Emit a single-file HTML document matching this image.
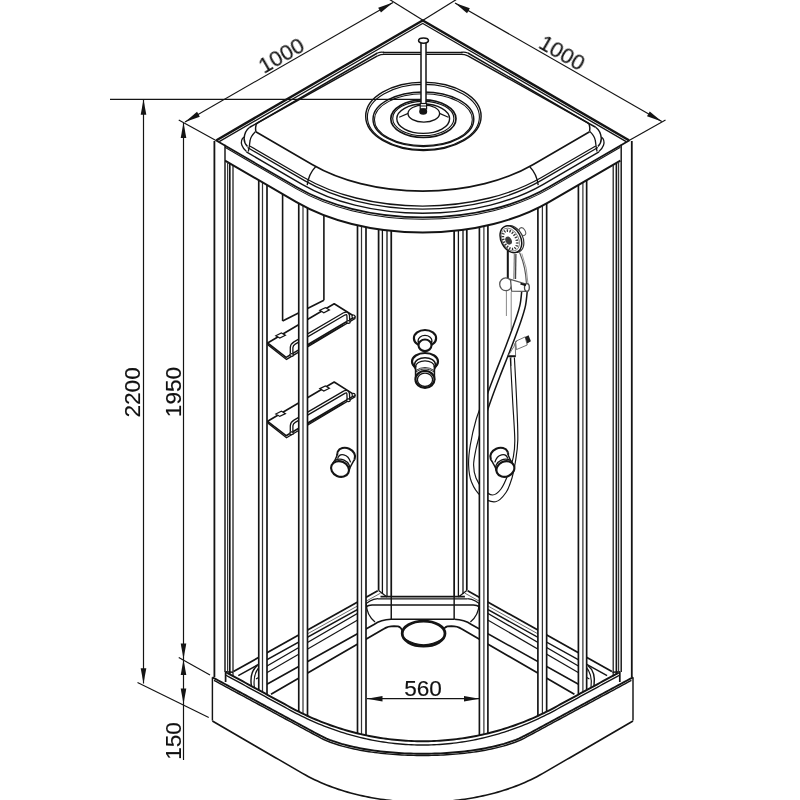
<!DOCTYPE html>
<html><head><meta charset="utf-8"><title>Shower cabin drawing</title>
<style>html,body{margin:0;padding:0;background:#fff}svg{display:block}
text{font-family:"Liberation Sans",Arial,sans-serif;fill:#111;stroke:#111;stroke-width:0.15px}</style></head>
<body><svg width="800" height="800" viewBox="0 0 800 800">
<rect width="800" height="800" fill="#fff"/>
<line x1="233.50" y1="671.50" x2="377.75" y2="590.75" stroke="#141414" stroke-width="1.74"/>
<line x1="300.00" y1="638.00" x2="380.50" y2="593.20" stroke="#555" stroke-width="0.87"/>
<line x1="256.00" y1="679.00" x2="366.30" y2="615.00" stroke="#141414" stroke-width="1.16"/>
<path d="M238.30,675.6 L364.00,606 Q369.00,599.5 378.00,598.6" stroke="#141414" stroke-width="1.45" fill="none" />
<path d="M258.00,671.2 L362.00,610.8 Q365.00,605.6 372.00,605 L391.25,605" stroke="#141414" stroke-width="1.30" fill="none" />
<path d="M366.30,603.8 Q366.50,615 375.00,622" stroke="#141414" stroke-width="1.30" fill="none" />
<path d="M262.00,687 L374.00,624.5 Q381.00,619.6 391.00,619.3" stroke="#141414" stroke-width="1.59" fill="none" />
<path d="M271.00,694.3 L384.00,628.8 Q388.00,626.2 394.00,626.2 L398.00,626.4 Q401.00,627 402.50,631" stroke="#141414" stroke-width="1.74" fill="none" />
<path d="M257.50,665.5 Q249.30,672 251.40,686" stroke="#141414" stroke-width="1.45" fill="none" />
<path d="M259.80,666.5 Q252.60,674 254.40,687.5" stroke="#141414" stroke-width="1.16" fill="none" />
<line x1="391.25" y1="596.00" x2="391.25" y2="619.30" stroke="#141414" stroke-width="1.45"/>
<line x1="611.90" y1="671.50" x2="467.65" y2="590.75" stroke="#141414" stroke-width="1.74"/>
<line x1="545.40" y1="638.00" x2="464.90" y2="593.20" stroke="#555" stroke-width="0.87"/>
<line x1="589.40" y1="679.00" x2="479.10" y2="615.00" stroke="#141414" stroke-width="1.16"/>
<path d="M607.10,675.6 L481.40,606 Q476.40,599.5 467.40,598.6" stroke="#141414" stroke-width="1.45" fill="none" />
<path d="M587.40,671.2 L483.40,610.8 Q480.40,605.6 473.40,605 L454.15,605" stroke="#141414" stroke-width="1.30" fill="none" />
<path d="M479.10,603.8 Q478.90,615 470.40,622" stroke="#141414" stroke-width="1.30" fill="none" />
<path d="M583.40,687 L471.40,624.5 Q464.40,619.6 454.40,619.3" stroke="#141414" stroke-width="1.59" fill="none" />
<path d="M574.40,694.3 L461.40,628.8 Q457.40,626.2 451.40,626.2 L447.40,626.4 Q444.40,627 442.90,631" stroke="#141414" stroke-width="1.74" fill="none" />
<path d="M587.90,665.5 Q596.10,672 594.00,686" stroke="#141414" stroke-width="1.45" fill="none" />
<path d="M585.60,666.5 Q592.80,674 591.00,687.5" stroke="#141414" stroke-width="1.16" fill="none" />
<line x1="454.15" y1="596.00" x2="454.15" y2="619.30" stroke="#141414" stroke-width="1.45"/>
<line x1="380.50" y1="596.60" x2="464.90" y2="596.60" stroke="#141414" stroke-width="1.74"/>
<line x1="378.00" y1="598.80" x2="467.40" y2="598.80" stroke="#141414" stroke-width="1.30"/>
<line x1="391.25" y1="605.00" x2="454.15" y2="605.00" stroke="#141414" stroke-width="1.30"/>
<line x1="391.00" y1="619.30" x2="454.40" y2="619.30" stroke="#141414" stroke-width="1.59"/>
<ellipse cx="423.60" cy="633.60" rx="21.40" ry="12.50" stroke="#141414" stroke-width="2.75" fill="#fff"/>
<path d="M405,639 Q423.6,650.5 442.2,639" stroke="#141414" stroke-width="1.16" fill="none" />
<line x1="378.60" y1="224.00" x2="378.60" y2="590.60" stroke="#141414" stroke-width="1.74"/>
<line x1="382.40" y1="224.00" x2="382.40" y2="594.00" stroke="#141414" stroke-width="1.30"/>
<line x1="387.00" y1="224.00" x2="387.00" y2="597.00" stroke="#141414" stroke-width="1.30"/>
<line x1="391.25" y1="224.00" x2="391.25" y2="596.60" stroke="#141414" stroke-width="1.74"/>
<line x1="378.60" y1="590.60" x2="387.00" y2="597.00" stroke="#141414" stroke-width="1.30"/>
<line x1="466.80" y1="224.00" x2="466.80" y2="590.60" stroke="#141414" stroke-width="1.74"/>
<line x1="463.00" y1="224.00" x2="463.00" y2="594.00" stroke="#141414" stroke-width="1.30"/>
<line x1="458.40" y1="224.00" x2="458.40" y2="597.00" stroke="#141414" stroke-width="1.30"/>
<line x1="454.15" y1="224.00" x2="454.15" y2="596.60" stroke="#141414" stroke-width="1.74"/>
<line x1="466.80" y1="590.60" x2="458.40" y2="597.00" stroke="#141414" stroke-width="1.30"/>
<line x1="282.60" y1="188.00" x2="282.60" y2="321.00" stroke="#141414" stroke-width="1.59"/>
<line x1="323.90" y1="205.00" x2="323.90" y2="300.30" stroke="#141414" stroke-width="1.59"/>
<line x1="282.60" y1="321.00" x2="323.90" y2="300.30" stroke="#141414" stroke-width="1.59"/>
<polygon points="267.60,343.00 334.20,303.75 354.90,316.80 286.10,357.40" fill="#fff" stroke="#141414" stroke-width="1.6" stroke-linejoin="round"/>
<path d="M267.6,343.3 L268.20000000000005,345.0 L286.5,359.4 L354.9,318.6 L354.9,316.8" stroke="#141414" stroke-width="1.30" fill="none" />
<polygon points="275.80,335.70 281.40,333.00 285.40,335.30 279.80,338.10" fill="#fff" stroke="#141414" stroke-width="1.2"/>
<polygon points="319.80,310.30 325.40,307.60 329.40,309.90 323.80,312.70" fill="#fff" stroke="#141414" stroke-width="1.2"/>
<line x1="300.00" y1="350.00" x2="343.50" y2="325.00" stroke="#141414" stroke-width="1.30"/>
<path d="M291.6,353.50 L291.6,347.50 Q291.8,344.60 294.6,343.00 L344.2,313.90 Q347.6,312.20 348.2,315.60 L348.4,320.50" stroke="#141414" stroke-width="3.9" fill="none"/>
<path d="M291.6,353.50 L291.6,347.50 Q291.8,344.60 294.6,343.00 L344.2,313.90 Q347.6,312.20 348.2,315.60 L348.4,320.50" stroke="#fff" stroke-width="1.3" fill="none"/>
<ellipse cx="291.60" cy="355.00" rx="1.80" ry="1.40" stroke="#141414" stroke-width="1.30" fill="#fff"/>
<ellipse cx="348.40" cy="322.00" rx="1.80" ry="1.40" stroke="#141414" stroke-width="1.30" fill="#fff"/>
<ellipse cx="353.50" cy="316.50" rx="1.50" ry="1.50" stroke="#141414" stroke-width="1.16" fill="#fff"/>
<polygon points="267.60,421.30 334.20,382.05 354.90,395.10 286.10,435.70" fill="#fff" stroke="#141414" stroke-width="1.6" stroke-linejoin="round"/>
<path d="M267.6,421.6 L268.20000000000005,423.3 L286.5,437.7 L354.9,396.90000000000003 L354.9,395.1" stroke="#141414" stroke-width="1.30" fill="none" />
<polygon points="275.80,414.00 281.40,411.30 285.40,413.60 279.80,416.40" fill="#fff" stroke="#141414" stroke-width="1.2"/>
<polygon points="319.80,388.60 325.40,385.90 329.40,388.20 323.80,391.00" fill="#fff" stroke="#141414" stroke-width="1.2"/>
<line x1="300.00" y1="428.30" x2="343.50" y2="403.30" stroke="#141414" stroke-width="1.30"/>
<path d="M291.6,431.80 L291.6,425.80 Q291.8,422.90 294.6,421.30 L344.2,392.20 Q347.6,390.50 348.2,393.90 L348.4,398.80" stroke="#141414" stroke-width="3.9" fill="none"/>
<path d="M291.6,431.80 L291.6,425.80 Q291.8,422.90 294.6,421.30 L344.2,392.20 Q347.6,390.50 348.2,393.90 L348.4,398.80" stroke="#fff" stroke-width="1.3" fill="none"/>
<ellipse cx="291.60" cy="433.30" rx="1.80" ry="1.40" stroke="#141414" stroke-width="1.30" fill="#fff"/>
<ellipse cx="348.40" cy="400.30" rx="1.80" ry="1.40" stroke="#141414" stroke-width="1.30" fill="#fff"/>
<ellipse cx="353.50" cy="394.80" rx="1.50" ry="1.50" stroke="#141414" stroke-width="1.16" fill="#fff"/>
<ellipse cx="346.20" cy="455.40" rx="9.20" ry="7.30" stroke="#141414" stroke-width="2.10" fill="#fff" transform="rotate(24 346.20 455.40)"/>
<path d="M338.20,452.5 L332.20,465.6 L348.20,472.4 L354.40,459.4 Z" stroke="#141414" stroke-width="0.00" fill="#fff" />
<line x1="338.00" y1="453.20" x2="333.60" y2="463.40" stroke="#141414" stroke-width="1.45"/>
<line x1="354.30" y1="459.60" x2="349.40" y2="468.60" stroke="#141414" stroke-width="1.45"/>
<path d="M337.60,458.6 C339.50,452.3 348.00,453.6 350.60,462.4" stroke="#141414" stroke-width="1.30" fill="none" />
<ellipse cx="341.00" cy="466.90" rx="9.10" ry="7.50" stroke="#141414" stroke-width="1.30" fill="#fff" transform="rotate(24 341.00 466.90)"/>
<ellipse cx="340.00" cy="469.00" rx="9.20" ry="7.60" stroke="#141414" stroke-width="2.10" fill="#fff" transform="rotate(24 340.00 469.00)"/>
<ellipse cx="425.00" cy="338.20" rx="11.10" ry="8.20" stroke="#141414" stroke-width="2.17" fill="#fff"/>
<ellipse cx="425.00" cy="340.60" rx="6.90" ry="5.20" stroke="#141414" stroke-width="1.30" fill="none"/>
<path d="M418.5,341 L418.5,345.5 M431.5,341 L431.5,345.5" stroke="#141414" stroke-width="1.59" fill="none" />
<path d="M418.8,342.6 Q425,338.4 431.2,342.6 M418.8,343.8 Q425,339.6 431.2,343.8" stroke="#141414" stroke-width="0.87" fill="none" />
<ellipse cx="425.00" cy="345.30" rx="6.50" ry="5.80" stroke="#141414" stroke-width="2.10" fill="#fff"/>
<ellipse cx="425.00" cy="361.60" rx="13.00" ry="8.60" stroke="#141414" stroke-width="2.17" fill="#fff"/>
<ellipse cx="425.00" cy="364.60" rx="10.40" ry="6.90" stroke="#141414" stroke-width="1.45" fill="none"/>
<ellipse cx="425.00" cy="366.80" rx="9.40" ry="6.00" stroke="#141414" stroke-width="1.30" fill="none"/>
<rect x="415.6" y="367" width="18.8" height="13" fill="#fff"/>
<path d="M415.6,366.5 L415.6,380 M434.4,366.5 L434.4,380" stroke="#141414" stroke-width="1.59" fill="none" />
<path d="M412.4,363.5 L415.6,369.5 M437.6,363.5 L434.4,369.5" stroke="#141414" stroke-width="1.30" fill="none" />
<path d="M416,370.4 Q425,364.6 434,370.4 M416,371.8 Q425,366 434,371.8" stroke="#141414" stroke-width="0.87" fill="none" />
<ellipse cx="425.00" cy="379.40" rx="9.50" ry="8.50" stroke="#141414" stroke-width="2.17" fill="#fff"/>
<ellipse cx="425.00" cy="379.80" rx="7.60" ry="6.70" stroke="#141414" stroke-width="1.30" fill="none"/>
<line x1="506.40" y1="290.00" x2="506.40" y2="316.00" stroke="#777" stroke-width="0.87"/>
<line x1="511.20" y1="292.00" x2="511.20" y2="330.00" stroke="#777" stroke-width="0.87"/>
<line x1="511.20" y1="355.00" x2="511.20" y2="366.00" stroke="#777" stroke-width="0.87"/>
<path d="M524.60,290.00 C524.30,292.50 523.83,300.00 522.80,305.00 C521.77,310.00 520.78,313.00 518.40,320.00 C516.02,327.00 511.98,337.83 508.50,347.00 C505.02,356.17 500.68,366.75 497.50,375.00 C494.32,383.25 491.65,390.33 489.40,396.50 C487.15,402.67 484.90,409.42 484.00,412.00" stroke="#141414" stroke-width="7.0" fill="none" stroke-linecap="butt"/>
<path d="M524.60,290.00 C524.30,292.50 523.83,300.00 522.80,305.00 C521.77,310.00 520.78,313.00 518.40,320.00 C516.02,327.00 511.98,337.83 508.50,347.00 C505.02,356.17 500.68,366.75 497.50,375.00 C494.32,383.25 491.65,390.33 489.40,396.50 C487.15,402.67 484.90,409.42 484.00,412.00" stroke="#fff" stroke-width="4.0" fill="none" stroke-linecap="butt"/>
<path d="M484.00,398.00 C482.67,401.67 478.28,412.17 476.00,420.00 C473.72,427.83 471.53,437.50 470.30,445.00 C469.07,452.50 468.40,458.83 468.60,465.00 C468.80,471.17 469.43,476.83 471.50,482.00 C473.57,487.17 477.00,492.72 481.00,496.00 C485.00,499.28 491.33,502.28 495.50,501.70 C499.67,501.12 503.25,496.45 506.00,492.50 C508.75,488.55 510.47,482.92 512.00,478.00 C513.53,473.08 514.23,469.33 515.20,463.00 C516.17,456.67 517.57,450.50 517.80,440.00 C518.03,429.50 517.17,413.75 516.60,400.00 C516.03,386.25 514.77,364.58 514.40,357.50" stroke="#141414" stroke-width="1.16" fill="none" />
<path d="M487.00,412.00 C485.92,415.33 482.37,425.67 480.50,432.00 C478.63,438.33 476.95,444.50 475.80,450.00 C474.65,455.50 473.57,460.33 473.60,465.00 C473.63,469.67 474.43,474.00 476.00,478.00 C477.57,482.00 480.25,486.17 483.00,489.00 C485.75,491.83 489.50,495.00 492.50,495.00 C495.50,495.00 498.42,492.42 501.00,489.00 C503.58,485.58 505.97,479.75 508.00,474.50 C510.03,469.25 512.07,463.25 513.20,457.50 C514.33,451.75 514.90,449.58 514.80,440.00 C514.70,430.42 513.35,413.75 512.60,400.00 C511.85,386.25 510.68,364.58 510.30,357.50" stroke="#141414" stroke-width="1.16" fill="none" />
<path d="M513.9,346.5 Q511.5,350.5 508.2,355.8 L515.6,355.8 L515.2,343.2 Z" stroke="#5a5a5a" stroke-width="0.87" fill="#fff" />
<path d="M515.6,341.3 L525.2,336.9 L527.2,345.0 L516.4,349.6 Z" stroke="#5a5a5a" stroke-width="0.87" fill="#fff" />
<path d="M517.2,341.0 Q515.4,341.6 515.2,343.4" stroke="#5a5a5a" stroke-width="0.87" fill="none" />
<polygon points="525.0,336.9 528.6,335.2 530.9,341.2 527.3,343.4" fill="#1c1c1c"/>
<line x1="507.80" y1="356.30" x2="515.80" y2="356.30" stroke="#141414" stroke-width="1.81"/>
<polygon points="507.6,250 516.2,253 515.6,279 507.8,279" fill="#fff"/>
<line x1="507.80" y1="250.50" x2="507.80" y2="279.00" stroke="#141414" stroke-width="2.03"/>
<line x1="515.90" y1="254.00" x2="515.50" y2="279.00" stroke="#444" stroke-width="1.30"/>
<line x1="514.30" y1="254.00" x2="513.90" y2="279.00" stroke="#666" stroke-width="1.01"/>
<path d="M519.5,252.5 Q525.5,266 526.4,283" stroke="#555" stroke-width="1.16" fill="none" />
<path d="M521.8,253.5 Q527.6,268 528.0,284" stroke="#888" stroke-width="0.87" fill="none" />
<ellipse cx="505.80" cy="284.30" rx="6.10" ry="6.40" stroke="#555" stroke-width="1.30" fill="#fff"/>
<path d="M510.5,279.4 L526.5,284.2 L527.6,291.4 L511.6,291.2 Z" stroke="#555" stroke-width="1.30" fill="#fff" />
<ellipse cx="526.90" cy="287.40" rx="2.40" ry="3.80" stroke="#444" stroke-width="1.30" fill="#fff"/>
<path d="M520.5,283.6 L526,285.2" stroke="#141414" stroke-width="2.03" fill="none" />
<ellipse cx="522.0" cy="231.6" rx="2.8" ry="4.2" fill="#fff" stroke="#555" stroke-width="1.0" transform="rotate(-30 522.3 230.8)"/>
<ellipse cx="513" cy="239" rx="9.8" ry="14.2" fill="#fff" stroke="#333" stroke-width="1.2" transform="rotate(-27 513 239)"/>
<ellipse cx="510.9" cy="239.2" rx="9.8" ry="14.2" fill="#fff" stroke="#141414" stroke-width="1.5" transform="rotate(-27 510.9 239.2)"/>
<ellipse cx="510.3" cy="239.6" rx="8.2" ry="12.2" fill="none" stroke="#555" stroke-width="0.7" transform="rotate(-27 510.3 239.6)"/>
<ellipse cx="510.0" cy="239.8" rx="6.3" ry="9.8" fill="none" stroke="#333" stroke-width="2.6" stroke-dasharray="1.3 1.5" transform="rotate(-27 510.0 239.8)"/>
<ellipse cx="508.6" cy="240.6" rx="3.0" ry="4.2" fill="#3a3a3a" stroke="none" transform="rotate(-27 508.6 240.6)"/>
<ellipse cx="499.20" cy="455.40" rx="9.20" ry="7.30" stroke="#141414" stroke-width="2.10" fill="#fff" transform="rotate(-24 499.20 455.40)"/>
<path d="M507.20,452.5 L513.20,465.6 L497.20,472.4 L491.00,459.4 Z" stroke="#141414" stroke-width="0.00" fill="#fff" />
<line x1="507.40" y1="453.20" x2="511.80" y2="463.40" stroke="#141414" stroke-width="1.45"/>
<line x1="491.10" y1="459.60" x2="496.00" y2="468.60" stroke="#141414" stroke-width="1.45"/>
<path d="M507.80,458.6 C505.90,452.3 497.40,453.6 494.80,462.4" stroke="#141414" stroke-width="1.30" fill="none" />
<ellipse cx="504.40" cy="466.90" rx="9.10" ry="7.50" stroke="#141414" stroke-width="1.30" fill="#fff" transform="rotate(-24 504.40 466.90)"/>
<ellipse cx="505.40" cy="469.00" rx="9.20" ry="7.60" stroke="#141414" stroke-width="2.10" fill="#fff" transform="rotate(-24 505.40 469.00)"/>
<polygon points="258.75,180.15 267.00,184.94 267.00,694.16 258.75,689.67" fill="#fff"/>
<line x1="258.75" y1="179.65" x2="258.75" y2="690.17" stroke="#141414" stroke-width="1.67"/>
<line x1="262.50" y1="181.83" x2="262.50" y2="692.21" stroke="#333" stroke-width="1.23"/>
<line x1="267.00" y1="184.44" x2="267.00" y2="694.66" stroke="#141414" stroke-width="1.67"/>
<polygon points="578.40,184.94 586.65,180.15 586.65,689.67 578.40,694.16" fill="#fff"/>
<line x1="586.65" y1="179.65" x2="586.65" y2="690.17" stroke="#141414" stroke-width="1.67"/>
<line x1="582.90" y1="181.83" x2="582.90" y2="692.21" stroke="#333" stroke-width="1.23"/>
<line x1="578.40" y1="184.44" x2="578.40" y2="694.66" stroke="#141414" stroke-width="1.67"/>
<polygon points="298.75,203.37 307.50,207.96 307.50,715.47 298.75,711.27" fill="#fff"/>
<line x1="298.75" y1="202.87" x2="298.75" y2="711.77" stroke="#141414" stroke-width="1.67"/>
<line x1="303.00" y1="205.17" x2="303.00" y2="713.86" stroke="#333" stroke-width="1.23"/>
<line x1="307.50" y1="207.46" x2="307.50" y2="715.97" stroke="#141414" stroke-width="1.67"/>
<polygon points="537.90,207.96 546.65,203.37 546.65,711.27 537.90,715.47" fill="#fff"/>
<line x1="546.65" y1="202.87" x2="546.65" y2="711.77" stroke="#141414" stroke-width="1.67"/>
<line x1="542.40" y1="205.17" x2="542.40" y2="713.86" stroke="#333" stroke-width="1.23"/>
<line x1="537.90" y1="207.46" x2="537.90" y2="715.97" stroke="#141414" stroke-width="1.67"/>
<polygon points="357.50,225.28 366.00,227.08 366.00,734.89 357.50,732.94" fill="#fff"/>
<line x1="357.50" y1="224.78" x2="357.50" y2="733.44" stroke="#141414" stroke-width="1.67"/>
<line x1="361.50" y1="225.66" x2="361.50" y2="734.39" stroke="#333" stroke-width="1.23"/>
<line x1="366.00" y1="226.58" x2="366.00" y2="735.39" stroke="#141414" stroke-width="1.67"/>
<polygon points="479.40,227.08 487.90,225.28 487.90,732.94 479.40,734.89" fill="#fff"/>
<line x1="487.90" y1="224.78" x2="487.90" y2="733.44" stroke="#141414" stroke-width="1.67"/>
<line x1="483.90" y1="225.66" x2="483.90" y2="734.39" stroke="#333" stroke-width="1.23"/>
<line x1="479.40" y1="226.58" x2="479.40" y2="735.39" stroke="#141414" stroke-width="1.67"/>
<path d="M212.40,677.30 L215.91,679.19 L219.41,681.09 L222.92,682.98 L226.42,684.87 L229.93,686.76 L233.43,688.66 L236.94,690.55 L240.44,692.44 L243.94,694.33 L247.45,696.23 L250.96,698.12 L254.46,700.01 L257.97,701.91 L261.47,703.80 L264.98,705.69 L268.48,707.58 L271.99,709.48 L275.49,711.37 L279.00,713.26 L282.50,715.15 L286.00,717.05 L289.51,718.94 L293.01,720.83 L296.52,722.72 L300.02,724.62 L303.53,726.51 L307.04,728.40 L310.54,730.30 L314.05,732.19 L317.55,734.08 L321.06,735.96 L324.56,737.67 L328.06,739.19 L331.57,740.56 L335.07,741.80 L338.58,742.94 L342.09,743.99 L345.59,744.96 L349.10,745.85 L352.60,746.67 L356.11,747.44 L359.61,748.14 L363.12,748.80 L366.62,749.40 L370.12,749.96 L373.63,750.47 L377.13,750.94 L380.64,751.37 L384.14,751.76 L387.65,752.12 L391.16,752.43 L394.66,752.71 L398.17,752.96 L401.67,753.17 L405.18,753.35 L408.68,753.49 L412.19,753.61 L415.69,753.69 L419.20,753.73 L422.70,753.75 L426.21,753.73 L429.71,753.69 L433.22,753.61 L436.72,753.49 L440.23,753.35 L443.73,753.17 L447.24,752.96 L450.74,752.71 L454.25,752.43 L457.75,752.12 L461.25,751.76 L464.76,751.37 L468.27,750.94 L471.77,750.47 L475.27,749.96 L478.78,749.40 L482.28,748.80 L485.79,748.14 L489.30,747.44 L492.80,746.67 L496.30,745.85 L499.81,744.96 L503.32,743.99 L506.82,742.94 L510.33,741.80 L513.83,740.56 L517.34,739.19 L520.84,737.67 L524.35,735.96 L527.85,734.08 L531.36,732.19 L534.86,730.30 L538.37,728.40 L541.87,726.51 L545.38,724.62 L548.88,722.72 L552.38,720.83 L555.89,718.94 L559.39,717.05 L562.90,715.15 L566.41,713.26 L569.91,711.37 L573.42,709.48 L576.92,707.58 L580.42,705.69 L583.93,703.80 L587.44,701.91 L590.94,700.01 L594.45,698.12 L597.95,696.23 L601.46,694.33 L604.96,692.44 L608.47,690.55 L611.97,688.66 L615.48,686.76 L618.98,684.87 L622.49,682.98 L625.99,681.09 L629.50,679.19 L633.00,677.30 L633.00,830.00 L629.50,830.00 L625.99,830.00 L622.49,830.00 L618.98,830.00 L615.48,830.00 L611.97,830.00 L608.47,830.00 L604.96,830.00 L601.46,830.00 L597.95,830.00 L594.45,830.00 L590.94,830.00 L587.44,830.00 L583.93,830.00 L580.42,830.00 L576.92,830.00 L573.42,830.00 L569.91,830.00 L566.41,830.00 L562.90,830.00 L559.39,830.00 L555.89,830.00 L552.38,830.00 L548.88,830.00 L545.38,830.00 L541.87,830.00 L538.37,830.00 L534.86,830.00 L531.36,830.00 L527.85,830.00 L524.35,830.00 L520.84,830.00 L517.34,830.00 L513.83,830.00 L510.33,830.00 L506.82,830.00 L503.32,830.00 L499.81,830.00 L496.30,830.00 L492.80,830.00 L489.30,830.00 L485.79,830.00 L482.28,830.00 L478.78,830.00 L475.27,830.00 L471.77,830.00 L468.27,830.00 L464.76,830.00 L461.25,830.00 L457.75,830.00 L454.25,830.00 L450.74,830.00 L447.24,830.00 L443.73,830.00 L440.23,830.00 L436.72,830.00 L433.22,830.00 L429.71,830.00 L426.21,830.00 L422.70,830.00 L419.20,830.00 L415.69,830.00 L412.19,830.00 L408.68,830.00 L405.18,830.00 L401.67,830.00 L398.17,830.00 L394.66,830.00 L391.16,830.00 L387.65,830.00 L384.14,830.00 L380.64,830.00 L377.13,830.00 L373.63,830.00 L370.12,830.00 L366.62,830.00 L363.12,830.00 L359.61,830.00 L356.11,830.00 L352.60,830.00 L349.10,830.00 L345.59,830.00 L342.09,830.00 L338.58,830.00 L335.07,830.00 L331.57,830.00 L328.06,830.00 L324.56,830.00 L321.06,830.00 L317.55,830.00 L314.05,830.00 L310.54,830.00 L307.04,830.00 L303.53,830.00 L300.02,830.00 L296.52,830.00 L293.01,830.00 L289.51,830.00 L286.00,830.00 L282.50,830.00 L279.00,830.00 L275.49,830.00 L271.99,830.00 L268.48,830.00 L264.98,830.00 L261.47,830.00 L257.97,830.00 L254.46,830.00 L250.96,830.00 L247.45,830.00 L243.94,830.00 L240.44,830.00 L236.94,830.00 L233.43,830.00 L229.93,830.00 L226.42,830.00 L222.92,830.00 L219.41,830.00 L215.91,830.00 L212.40,830.00 Z" stroke="#141414" stroke-width="0.00" fill="#fff" />
<path d="M225.60,672.00 L228.88,673.79 L232.17,675.58 L235.45,677.37 L238.74,679.16 L242.02,680.95 L245.31,682.74 L248.59,684.53 L251.88,686.32 L255.16,688.11 L258.45,689.90 L261.74,691.69 L265.02,693.48 L268.31,695.27 L271.59,697.06 L274.88,698.85 L278.16,700.65 L281.44,702.44 L284.73,704.23 L288.01,706.02 L291.30,707.80 L294.58,709.54 L297.87,711.23 L301.15,712.86 L304.44,714.45 L307.72,715.98 L311.01,717.46 L314.29,718.89 L317.58,720.27 L320.86,721.60 L324.15,722.89 L327.43,724.12 L330.72,725.31 L334.00,726.46 L337.29,727.56 L340.57,728.61 L343.86,729.62 L347.14,730.59 L350.43,731.51 L353.71,732.39 L357.00,733.22 L360.28,734.01 L363.57,734.76 L366.86,735.47 L370.14,736.13 L373.42,736.76 L376.71,737.34 L380.00,737.88 L383.28,738.38 L386.56,738.84 L389.85,739.26 L393.13,739.64 L396.42,739.98 L399.70,740.28 L402.99,740.54 L406.27,740.75 L409.56,740.93 L412.84,741.07 L416.13,741.17 L419.41,741.23 L422.70,741.25 L425.98,741.23 L429.27,741.17 L432.55,741.07 L435.84,740.93 L439.12,740.75 L442.41,740.54 L445.69,740.28 L448.98,739.98 L452.26,739.64 L455.55,739.26 L458.83,738.84 L462.12,738.38 L465.40,737.88 L468.69,737.34 L471.97,736.76 L475.26,736.13 L478.54,735.47 L481.83,734.76 L485.12,734.01 L488.40,733.22 L491.68,732.39 L494.97,731.51 L498.25,730.59 L501.54,729.62 L504.82,728.61 L508.11,727.56 L511.39,726.46 L514.68,725.31 L517.96,724.12 L521.25,722.89 L524.53,721.60 L527.82,720.27 L531.10,718.89 L534.39,717.46 L537.67,715.98 L540.96,714.45 L544.24,712.86 L547.53,711.23 L550.81,709.54 L554.10,707.80 L557.38,706.02 L560.67,704.23 L563.95,702.44 L567.24,700.65 L570.52,698.85 L573.81,697.06 L577.09,695.27 L580.38,693.48 L583.66,691.69 L586.95,689.90 L590.23,688.11 L593.52,686.32 L596.80,684.53 L600.09,682.74 L603.37,680.95 L606.66,679.16 L609.94,677.37 L613.23,675.58 L616.51,673.79 L619.80,672.00 L619.80,684.43 L616.51,686.20 L613.23,687.98 L609.94,689.75 L606.66,691.52 L603.37,693.30 L600.09,695.07 L596.80,696.85 L593.52,698.62 L590.23,700.39 L586.95,702.17 L583.66,703.94 L580.38,705.71 L577.09,707.49 L573.81,709.26 L570.52,711.04 L567.24,712.81 L563.95,714.58 L560.67,716.36 L557.38,718.13 L554.10,719.91 L550.81,721.68 L547.53,723.45 L544.24,725.23 L540.96,727.00 L537.67,728.78 L534.39,730.55 L531.10,732.32 L527.82,734.10 L524.53,735.86 L521.25,737.48 L517.96,738.93 L514.68,740.24 L511.39,741.44 L508.11,742.54 L504.82,743.55 L501.54,744.49 L498.25,745.36 L494.97,746.17 L491.68,746.92 L488.40,747.62 L485.12,748.27 L481.83,748.88 L478.54,749.44 L475.26,749.96 L471.97,750.44 L468.69,750.89 L465.40,751.30 L462.12,751.67 L458.83,752.01 L455.55,752.32 L452.26,752.60 L448.98,752.84 L445.69,753.06 L442.41,753.24 L439.12,753.40 L435.84,753.52 L432.55,753.62 L429.27,753.69 L425.98,753.74 L422.70,753.75 L419.41,753.74 L416.13,753.69 L412.84,753.62 L409.56,753.52 L406.27,753.40 L402.99,753.24 L399.70,753.06 L396.42,752.84 L393.13,752.60 L389.85,752.32 L386.56,752.01 L383.28,751.67 L380.00,751.30 L376.71,750.89 L373.42,750.44 L370.14,749.96 L366.86,749.44 L363.57,748.88 L360.28,748.27 L357.00,747.62 L353.71,746.92 L350.43,746.17 L347.14,745.36 L343.86,744.49 L340.57,743.55 L337.29,742.54 L334.00,741.44 L330.72,740.24 L327.43,738.93 L324.15,737.48 L320.86,735.86 L317.58,734.10 L314.29,732.32 L311.01,730.55 L307.72,728.78 L304.44,727.00 L301.15,725.23 L297.87,723.45 L294.58,721.68 L291.30,719.91 L288.01,718.13 L284.73,716.36 L281.44,714.58 L278.16,712.81 L274.88,711.04 L271.59,709.26 L268.31,707.49 L265.02,705.71 L261.74,703.94 L258.45,702.17 L255.16,700.39 L251.88,698.62 L248.59,696.85 L245.31,695.07 L242.02,693.30 L238.74,691.52 L235.45,689.75 L232.17,687.98 L228.88,686.20 L225.60,684.43 Z" stroke="#141414" stroke-width="0.00" fill="#fff" />
<path d="M225.60,675.00 L228.42,676.53 L231.23,678.07 L234.05,679.60 L236.86,681.14 L239.68,682.67 L242.49,684.21 L245.31,685.74 L248.13,687.28 L250.94,688.81 L253.76,690.35 L256.57,691.88 L259.39,693.41 L262.20,694.95 L265.02,696.48 L267.84,698.02 L270.65,699.55 L273.47,701.09 L276.28,702.62 L279.10,704.16 L281.91,705.69 L284.73,707.23 L287.55,708.76 L290.36,710.29 L293.18,711.81 L295.99,713.28 L298.81,714.72 L301.62,716.12 L304.44,717.48 L307.26,718.81 L310.07,720.11 L312.89,721.36 L315.70,722.59 L318.52,723.78 L321.33,724.93 L324.15,726.05 L326.97,727.14 L329.78,728.19 L332.60,729.21 L335.41,730.20 L338.23,731.15 L341.04,732.07 L343.86,732.95 L346.68,733.81 L349.49,734.63 L352.31,735.42 L355.12,736.18 L357.94,736.90 L360.75,737.60 L363.57,738.26 L366.39,738.89 L369.20,739.49 L372.02,740.06 L374.83,740.59 L377.65,741.10 L380.46,741.57 L383.28,742.02 L386.10,742.43 L388.91,742.81 L391.73,743.16 L394.54,743.48 L397.36,743.77 L400.17,744.03 L402.99,744.26 L405.81,744.45 L408.62,744.62 L411.44,744.76 L414.25,744.86 L417.07,744.94 L419.88,744.98 L422.70,745.00 L425.52,744.98 L428.33,744.94 L431.15,744.86 L433.96,744.76 L436.78,744.62 L439.59,744.45 L442.41,744.26 L445.23,744.03 L448.04,743.77 L450.86,743.48 L453.67,743.16 L456.49,742.81 L459.30,742.43 L462.12,742.02 L464.94,741.57 L467.75,741.10 L470.57,740.59 L473.38,740.06 L476.20,739.49 L479.01,738.89 L481.83,738.26 L484.65,737.60 L487.46,736.90 L490.28,736.18 L493.09,735.42 L495.91,734.63 L498.72,733.81 L501.54,732.95 L504.36,732.07 L507.17,731.15 L509.99,730.20 L512.80,729.21 L515.62,728.19 L518.43,727.14 L521.25,726.05 L524.07,724.93 L526.88,723.78 L529.70,722.59 L532.51,721.36 L535.33,720.11 L538.14,718.81 L540.96,717.48 L543.78,716.12 L546.59,714.72 L549.41,713.28 L552.22,711.81 L555.04,710.29 L557.85,708.76 L560.67,707.23 L563.49,705.69 L566.30,704.16 L569.12,702.62 L571.93,701.09 L574.75,699.55 L577.56,698.02 L580.38,696.48 L583.20,694.95 L586.01,693.41 L588.83,691.88 L591.64,690.35 L594.46,688.81 L597.27,687.28 L600.09,685.74 L602.91,684.21 L605.72,682.67 L608.54,681.14 L611.35,679.60 L614.17,678.07 L616.98,676.53 L619.80,675.00" stroke="#141414" stroke-width="1.38" fill="none" />
<path d="M225.60,672.00 L228.42,673.53 L231.23,675.07 L234.05,676.60 L236.86,678.14 L239.68,679.67 L242.49,681.21 L245.31,682.74 L248.13,684.28 L250.94,685.81 L253.76,687.35 L256.57,688.88 L259.39,690.41 L262.20,691.95 L265.02,693.48 L267.84,695.02 L270.65,696.55 L273.47,698.09 L276.28,699.62 L279.10,701.16 L281.91,702.69 L284.73,704.23 L287.55,705.76 L290.36,707.29 L293.18,708.80 L295.99,710.27 L298.81,711.70 L301.62,713.09 L304.44,714.45 L307.26,715.76 L310.07,717.04 L312.89,718.28 L315.70,719.49 L318.52,720.65 L321.33,721.79 L324.15,722.89 L326.97,723.95 L329.78,724.98 L332.60,725.97 L335.41,726.94 L338.23,727.86 L341.04,728.76 L343.86,729.62 L346.68,730.45 L349.49,731.25 L352.31,732.01 L355.12,732.75 L357.94,733.45 L360.75,734.12 L363.57,734.76 L366.39,735.37 L369.20,735.95 L372.02,736.50 L374.83,737.01 L377.65,737.50 L380.46,737.96 L383.28,738.38 L386.10,738.78 L388.91,739.15 L391.73,739.48 L394.54,739.79 L397.36,740.07 L400.17,740.32 L402.99,740.54 L405.81,740.73 L408.62,740.89 L411.44,741.02 L414.25,741.12 L417.07,741.19 L419.88,741.24 L422.70,741.25 L425.52,741.24 L428.33,741.19 L431.15,741.12 L433.96,741.02 L436.78,740.89 L439.59,740.73 L442.41,740.54 L445.23,740.32 L448.04,740.07 L450.86,739.79 L453.67,739.48 L456.49,739.15 L459.30,738.78 L462.12,738.38 L464.94,737.96 L467.75,737.50 L470.57,737.01 L473.38,736.50 L476.20,735.95 L479.01,735.37 L481.83,734.76 L484.65,734.12 L487.46,733.45 L490.28,732.75 L493.09,732.01 L495.91,731.25 L498.72,730.45 L501.54,729.62 L504.36,728.76 L507.17,727.86 L509.99,726.94 L512.80,725.97 L515.62,724.98 L518.43,723.95 L521.25,722.89 L524.07,721.79 L526.88,720.65 L529.70,719.49 L532.51,718.28 L535.33,717.04 L538.14,715.76 L540.96,714.45 L543.78,713.09 L546.59,711.70 L549.41,710.27 L552.22,708.80 L555.04,707.29 L557.85,705.76 L560.67,704.23 L563.49,702.69 L566.30,701.16 L569.12,699.62 L571.93,698.09 L574.75,696.55 L577.56,695.02 L580.38,693.48 L583.20,691.95 L586.01,690.41 L588.83,688.88 L591.64,687.35 L594.46,685.81 L597.27,684.28 L600.09,682.74 L602.91,681.21 L605.72,679.67 L608.54,678.14 L611.35,676.60 L614.17,675.07 L616.98,673.53 L619.80,672.00" stroke="#141414" stroke-width="1.96" fill="none" />
<path d="M212.40,677.30 L215.40,678.92 L218.41,680.54 L221.41,682.17 L224.42,683.79 L227.42,685.41 L230.43,687.03 L233.43,688.66 L236.43,690.28 L239.44,691.90 L242.44,693.52 L245.45,695.15 L248.45,696.77 L251.46,698.39 L254.46,700.01 L257.46,701.63 L260.47,703.26 L263.47,704.88 L266.48,706.50 L269.48,708.12 L272.49,709.75 L275.49,711.37 L278.49,712.99 L281.50,714.61 L284.50,716.24 L287.51,717.86 L290.51,719.48 L293.52,721.10 L296.52,722.72 L299.52,724.35 L302.53,725.97 L305.53,727.59 L308.54,729.21 L311.54,730.84 L314.55,732.46 L317.55,734.08 L320.55,735.70 L323.56,737.20 L326.56,738.56 L329.57,739.79 L332.57,740.93 L335.58,741.97 L338.58,742.94 L341.58,743.85 L344.59,744.69 L347.59,745.47 L350.60,746.21 L353.60,746.90 L356.61,747.54 L359.61,748.14 L362.61,748.71 L365.62,749.23 L368.62,749.73 L371.63,750.18 L374.63,750.61 L377.64,751.01 L380.64,751.37 L383.64,751.71 L386.65,752.02 L389.65,752.30 L392.66,752.56 L395.66,752.79 L398.67,752.99 L401.67,753.17 L404.67,753.33 L407.68,753.46 L410.68,753.56 L413.69,753.64 L416.69,753.70 L419.70,753.74 L422.70,753.75 L425.70,753.74 L428.71,753.70 L431.71,753.64 L434.72,753.56 L437.72,753.46 L440.73,753.33 L443.73,753.17 L446.73,752.99 L449.74,752.79 L452.74,752.56 L455.75,752.30 L458.75,752.02 L461.76,751.71 L464.76,751.37 L467.76,751.01 L470.77,750.61 L473.77,750.18 L476.78,749.73 L479.78,749.23 L482.79,748.71 L485.79,748.14 L488.79,747.54 L491.80,746.90 L494.80,746.21 L497.81,745.47 L500.81,744.69 L503.82,743.85 L506.82,742.94 L509.82,741.97 L512.83,740.93 L515.83,739.79 L518.84,738.56 L521.84,737.20 L524.85,735.70 L527.85,734.08 L530.85,732.46 L533.86,730.84 L536.86,729.21 L539.87,727.59 L542.87,725.97 L545.88,724.35 L548.88,722.72 L551.88,721.10 L554.89,719.48 L557.89,717.86 L560.90,716.24 L563.90,714.61 L566.91,712.99 L569.91,711.37 L572.91,709.75 L575.92,708.12 L578.92,706.50 L581.93,704.88 L584.93,703.26 L587.94,701.63 L590.94,700.01 L593.94,698.39 L596.95,696.77 L599.95,695.15 L602.96,693.52 L605.96,691.90 L608.97,690.28 L611.97,688.66 L614.97,687.03 L617.98,685.41 L620.98,683.79 L623.99,682.17 L626.99,680.54 L630.00,678.92 L633.00,677.30" stroke="#141414" stroke-width="1.89" fill="none" />
<path d="M214.00,680.36 L216.98,681.97 L219.96,683.58 L222.94,685.19 L225.93,686.80 L228.91,688.41 L231.89,690.02 L234.87,691.63 L237.85,693.24 L240.83,694.85 L243.81,696.46 L246.80,698.07 L249.78,699.68 L252.76,701.29 L255.74,702.90 L258.72,704.51 L261.70,706.12 L264.68,707.73 L267.67,709.34 L270.65,710.95 L273.63,712.56 L276.61,714.17 L279.59,715.78 L282.57,717.39 L285.55,719.00 L288.54,720.61 L291.52,722.22 L294.50,723.83 L297.48,725.44 L300.46,727.05 L303.44,728.66 L306.42,730.27 L309.41,731.88 L312.39,733.49 L315.37,735.10 L318.35,736.71 L321.33,738.30 L324.31,739.74 L327.29,741.04 L330.28,742.22 L333.26,743.30 L336.24,744.30 L339.22,745.23 L342.20,746.09 L345.18,746.89 L348.16,747.64 L351.15,748.34 L354.13,748.99 L357.11,749.60 L360.09,750.18 L363.07,750.71 L366.05,751.21 L369.03,751.68 L372.02,752.11 L375.00,752.52 L377.98,752.90 L380.96,753.24 L383.94,753.56 L386.92,753.86 L389.90,754.13 L392.89,754.37 L395.87,754.59 L398.85,754.78 L401.83,754.95 L404.81,755.10 L407.79,755.22 L410.77,755.32 L413.76,755.40 L416.74,755.46 L419.72,755.49 L422.70,755.50 L425.68,755.49 L428.66,755.46 L431.64,755.40 L434.63,755.32 L437.61,755.22 L440.59,755.10 L443.57,754.95 L446.55,754.78 L449.53,754.59 L452.51,754.37 L455.50,754.13 L458.48,753.86 L461.46,753.56 L464.44,753.24 L467.42,752.90 L470.40,752.52 L473.38,752.11 L476.37,751.68 L479.35,751.21 L482.33,750.71 L485.31,750.18 L488.29,749.60 L491.27,748.99 L494.25,748.34 L497.24,747.64 L500.22,746.89 L503.20,746.09 L506.18,745.23 L509.16,744.30 L512.14,743.30 L515.12,742.22 L518.11,741.04 L521.09,739.74 L524.07,738.30 L527.05,736.71 L530.03,735.10 L533.01,733.49 L535.99,731.88 L538.98,730.27 L541.96,728.66 L544.94,727.05 L547.92,725.44 L550.90,723.83 L553.88,722.22 L556.86,720.61 L559.85,719.00 L562.83,717.39 L565.81,715.78 L568.79,714.17 L571.77,712.56 L574.75,710.95 L577.73,709.34 L580.72,707.73 L583.70,706.12 L586.68,704.51 L589.66,702.90 L592.64,701.29 L595.62,699.68 L598.60,698.07 L601.59,696.46 L604.57,694.85 L607.55,693.24 L610.53,691.63 L613.51,690.02 L616.49,688.41 L619.47,686.80 L622.46,685.19 L625.44,683.58 L628.42,681.97 L631.40,680.36" stroke="#141414" stroke-width="1.45" fill="none" />
<path d="M212.40,721.00 L215.40,722.75 L218.41,724.50 L221.41,726.24 L224.42,727.99 L227.42,729.73 L230.43,731.48 L233.43,733.22 L236.43,734.97 L239.44,736.71 L242.44,738.46 L245.45,740.20 L248.45,741.95 L251.46,743.69 L254.46,745.44 L257.46,747.19 L260.47,748.93 L263.47,750.68 L266.48,752.42 L269.48,754.17 L272.49,755.91 L275.49,757.66 L278.49,759.40 L281.50,761.15 L284.50,762.89 L287.51,764.64 L290.51,766.38 L293.52,768.13 L296.52,769.87 L299.52,771.62 L302.53,773.37 L305.53,775.07 L308.54,776.69 L311.54,778.23 L314.55,779.71 L317.55,781.11 L320.55,782.46 L323.56,783.74 L326.56,784.97 L329.57,786.14 L332.57,787.25 L335.58,788.32 L338.58,789.34 L341.58,790.31 L344.59,791.23 L347.59,792.11 L350.60,792.95 L353.60,793.75 L356.61,794.51 L359.61,795.22 L362.61,795.90 L365.62,796.54 L368.62,797.15 L371.63,797.71 L374.63,798.25 L377.64,798.74 L380.64,799.21 L383.64,799.64 L386.65,800.03 L389.65,800.39 L392.66,800.72 L395.66,801.02 L398.67,801.29 L401.67,801.52 L404.67,801.72 L407.68,801.89 L410.68,802.03 L413.69,802.14 L416.69,802.22 L419.70,802.26 L422.70,802.28 L425.70,802.26 L428.71,802.22 L431.71,802.14 L434.72,802.03 L437.72,801.89 L440.73,801.72 L443.73,801.52 L446.73,801.29 L449.74,801.02 L452.74,800.72 L455.75,800.39 L458.75,800.03 L461.76,799.64 L464.76,799.21 L467.76,798.74 L470.77,798.25 L473.77,797.71 L476.78,797.15 L479.78,796.54 L482.79,795.90 L485.79,795.22 L488.79,794.51 L491.80,793.75 L494.80,792.95 L497.81,792.11 L500.81,791.23 L503.82,790.31 L506.82,789.34 L509.82,788.32 L512.83,787.25 L515.83,786.14 L518.84,784.97 L521.84,783.74 L524.85,782.46 L527.85,781.11 L530.85,779.71 L533.86,778.23 L536.86,776.69 L539.87,775.07 L542.87,773.37 L545.88,771.62 L548.88,769.87 L551.88,768.13 L554.89,766.38 L557.89,764.64 L560.90,762.89 L563.90,761.15 L566.91,759.40 L569.91,757.66 L572.91,755.91 L575.92,754.17 L578.92,752.42 L581.93,750.68 L584.93,748.93 L587.94,747.19 L590.94,745.44 L593.94,743.69 L596.95,741.95 L599.95,740.20 L602.96,738.46 L605.96,736.71 L608.97,734.97 L611.97,733.22 L614.97,731.48 L617.98,729.73 L620.98,727.99 L623.99,726.24 L626.99,724.50 L630.00,722.75 L633.00,721.00" stroke="#141414" stroke-width="1.67" fill="none" />
<line x1="212.40" y1="677.30" x2="212.40" y2="720.60" stroke="#141414" stroke-width="1.45"/>
<line x1="633.00" y1="677.30" x2="633.00" y2="720.60" stroke="#141414" stroke-width="1.45"/>
<line x1="225.60" y1="671.60" x2="225.60" y2="682.00" stroke="#141414" stroke-width="1.74"/>
<line x1="225.60" y1="671.80" x2="233.00" y2="672.20" stroke="#141414" stroke-width="1.45"/>
<line x1="619.80" y1="671.60" x2="619.80" y2="682.00" stroke="#141414" stroke-width="1.74"/>
<line x1="619.80" y1="671.80" x2="612.40" y2="672.20" stroke="#141414" stroke-width="1.45"/>
<path d="M216.5,140.2 L423,20.3 L628.90,140.2 L620.40,160.54 L620.40,160.54 L615.46,163.42 L610.51,166.29 L605.57,169.16 L600.63,172.03 L595.69,174.90 L590.75,177.77 L585.80,180.64 L580.86,183.52 L575.92,186.39 L570.98,189.26 L566.03,192.13 L561.09,195.00 L556.15,197.87 L551.20,200.74 L546.26,203.58 L541.32,206.24 L536.38,208.70 L531.43,210.99 L526.49,213.11 L521.55,215.09 L516.61,216.94 L511.66,218.65 L506.72,220.24 L501.78,221.72 L496.84,223.08 L491.89,224.34 L486.95,225.50 L482.01,226.56 L477.07,227.52 L472.12,228.39 L467.18,229.18 L462.24,229.87 L457.30,230.48 L452.36,231.01 L447.41,231.45 L442.47,231.81 L437.53,232.09 L432.58,232.29 L427.64,232.41 L422.70,232.45 L417.76,232.41 L412.81,232.29 L407.87,232.09 L402.93,231.81 L397.99,231.45 L393.05,231.01 L388.10,230.48 L383.16,229.87 L378.22,229.18 L373.27,228.39 L368.33,227.52 L363.39,226.56 L358.45,225.50 L353.50,224.34 L348.56,223.08 L343.62,221.72 L338.68,220.24 L333.74,218.65 L328.79,216.94 L323.85,215.09 L318.91,213.11 L313.96,210.99 L309.02,208.70 L304.08,206.24 L299.14,203.58 L294.19,200.74 L289.25,197.87 L284.31,195.00 L279.37,192.13 L274.42,189.26 L269.48,186.39 L264.54,183.52 L259.60,180.64 L254.65,177.77 L249.71,174.90 L244.77,172.03 L239.83,169.16 L234.88,166.29 L229.94,163.42 L225.00,160.54 Z" stroke="#141414" stroke-width="0.00" fill="#fff" />
<line x1="216.50" y1="140.20" x2="423.00" y2="20.30" stroke="#141414" stroke-width="2.46"/>
<line x1="219.20" y1="141.60" x2="423.00" y2="23.20" stroke="#141414" stroke-width="1.30"/>
<line x1="377.50" y1="53.00" x2="258.00" y2="122.60" stroke="#141414" stroke-width="1.45"/>
<line x1="377.50" y1="55.80" x2="249.75" y2="127.25" stroke="#141414" stroke-width="1.45"/>
<path d="M258.00,122.6 L256.20,124.2 Q255.20,127.5 255.80,131.4" stroke="#141414" stroke-width="1.45" fill="none" />
<path d="M249.75,127.25 C246.50,129.5 244.50,133 244.10,138.5 C244.10,141.5 245.50,144.5 247.50,146.6" stroke="#141414" stroke-width="1.45" fill="none" />
<path d="M244.00,137 C241.50,139 240.80,142 241.90,145.25 C242.80,147.8 244.60,150 246.50,151.5" stroke="#141414" stroke-width="1.30" fill="none" />
<path d="M255.60,131.4 C252.50,134.5 250.40,138 250.10,140.5 C249.50,143.5 249.60,147 248.30,151.5" stroke="#141414" stroke-width="1.30" fill="none" />
<path d="M377.50,53 Q381.00,51.6 384.00,52.4" stroke="#141414" stroke-width="1.30" fill="none" />
<path d="M377.50,55.8 Q381.00,54.4 384.00,54.4" stroke="#141414" stroke-width="1.30" fill="none" />
<path d="M315.60,166.8 Q308.60,174 307.20,185.2" stroke="#141414" stroke-width="1.30" fill="none" />
<line x1="628.90" y1="140.20" x2="422.40" y2="20.30" stroke="#141414" stroke-width="2.46"/>
<line x1="626.20" y1="141.60" x2="422.40" y2="23.20" stroke="#141414" stroke-width="1.30"/>
<line x1="467.90" y1="53.00" x2="587.40" y2="122.60" stroke="#141414" stroke-width="1.45"/>
<line x1="467.90" y1="55.80" x2="595.65" y2="127.25" stroke="#141414" stroke-width="1.45"/>
<path d="M587.40,122.6 L589.20,124.2 Q590.20,127.5 589.60,131.4" stroke="#141414" stroke-width="1.45" fill="none" />
<path d="M595.65,127.25 C598.90,129.5 600.90,133 601.30,138.5 C601.30,141.5 599.90,144.5 597.90,146.6" stroke="#141414" stroke-width="1.45" fill="none" />
<path d="M601.40,137 C603.90,139 604.60,142 603.50,145.25 C602.60,147.8 600.80,150 598.90,151.5" stroke="#141414" stroke-width="1.30" fill="none" />
<path d="M589.80,131.4 C592.90,134.5 595.00,138 595.30,140.5 C595.90,143.5 595.80,147 597.10,151.5" stroke="#141414" stroke-width="1.30" fill="none" />
<path d="M467.90,53 Q464.40,51.6 461.40,52.4" stroke="#141414" stroke-width="1.30" fill="none" />
<path d="M467.90,55.8 Q464.40,54.4 461.40,54.4" stroke="#141414" stroke-width="1.30" fill="none" />
<path d="M529.80,166.8 Q536.80,174 538.20,185.2" stroke="#141414" stroke-width="1.30" fill="none" />
<line x1="383.00" y1="52.40" x2="462.40" y2="52.40" stroke="#141414" stroke-width="1.45"/>
<line x1="383.00" y1="54.40" x2="462.40" y2="54.40" stroke="#141414" stroke-width="1.30"/>
<path d="M215.80,140.20 L296.49,187.08 A178.49,103.69 0 0 0 548.91,187.08 L629.60,140.20" stroke="#141414" stroke-width="1.74" fill="none" />
<path d="M225.00,147.34 L296.49,188.88 A178.49,103.69 0 0 0 548.91,188.88 L620.40,147.34" stroke="#141414" stroke-width="1.09" fill="none" />
<path d="M225.00,160.54 L296.49,202.08 A178.49,103.69 0 0 0 548.91,202.08 L620.40,160.54" stroke="#141414" stroke-width="2.03" fill="none" />
<path d="M255.80,131.78 L312.11,164.49 A156.40,90.86 0 0 0 533.29,164.49 L589.60,131.78" stroke="#141414" stroke-width="1.59" fill="none" />
<path d="M249.70,145.94 L303.94,177.45 A167.95,97.57 0 0 0 541.46,177.45 L595.70,145.94" stroke="#141414" stroke-width="1.30" fill="none" />
<path d="M247.50,147.53 L304.56,180.68 A167.08,97.06 0 0 0 540.84,180.68 L597.90,147.53" stroke="#141414" stroke-width="1.30" fill="none" />
<path d="M246.40,151.91 L302.08,184.26 A170.59,99.10 0 0 0 543.32,184.26 L599.00,151.91" stroke="#141414" stroke-width="1.45" fill="none" />
<ellipse cx="423.40" cy="116.30" rx="57.70" ry="34.10" stroke="#141414" stroke-width="1.45" fill="none"/>
<ellipse cx="423.40" cy="117.00" rx="56.00" ry="32.60" stroke="#141414" stroke-width="1.09" fill="none"/>
<ellipse cx="423.40" cy="119.20" rx="50.40" ry="27.20" stroke="#141414" stroke-width="1.45" fill="none"/>
<ellipse cx="423.40" cy="119.70" rx="48.90" ry="25.90" stroke="#141414" stroke-width="1.01" fill="none"/>
<ellipse cx="423.40" cy="118.70" rx="32.60" ry="18.80" stroke="#141414" stroke-width="1.67" fill="none"/>
<ellipse cx="423.30" cy="118.50" rx="30.60" ry="17.20" stroke="#141414" stroke-width="1.16" fill="none"/>
<ellipse cx="423.20" cy="118.70" rx="26.40" ry="14.70" stroke="#141414" stroke-width="1.38" fill="none"/>
<ellipse cx="423.80" cy="113.60" rx="15.80" ry="8.60" stroke="#141414" stroke-width="1.30" fill="#fff"/>
<line x1="399.20" y1="117.30" x2="408.20" y2="113.40" stroke="#141414" stroke-width="1.16"/>
<line x1="439.50" y1="113.40" x2="448.40" y2="117.30" stroke="#141414" stroke-width="1.16"/>
<rect x="421.0" y="41" width="5.0" height="63" fill="#fff" stroke="#141414" stroke-width="1.5"/>
<rect x="420.2" y="103.5" width="6.4" height="5.5" fill="#fff" stroke="#141414" stroke-width="1.2"/>
<line x1="420.20" y1="106.00" x2="426.60" y2="106.00" stroke="#141414" stroke-width="1.01"/>
<ellipse cx="423.20" cy="111.40" rx="3.30" ry="2.50" stroke="#141414" stroke-width="1.45" fill="#141414"/>
<ellipse cx="423.50" cy="40.60" rx="4.90" ry="2.60" stroke="#141414" stroke-width="1.59" fill="#fff"/>
<rect x="214.40" y="147" width="10.6" height="524.5" fill="#fff"/>
<line x1="214.40" y1="141.00" x2="214.40" y2="677.00" stroke="#141414" stroke-width="1.81"/>
<line x1="225.00" y1="144.80" x2="225.00" y2="672.00" stroke="#141414" stroke-width="1.45"/>
<line x1="227.60" y1="162.06" x2="227.60" y2="673.19" stroke="#333" stroke-width="1.16"/>
<line x1="229.80" y1="163.33" x2="229.80" y2="674.39" stroke="#141414" stroke-width="1.67"/>
<line x1="233.00" y1="165.19" x2="233.00" y2="676.13" stroke="#141414" stroke-width="1.23"/>
<rect x="621.20" y="147" width="10.6" height="524.5" fill="#fff"/>
<line x1="631.80" y1="141.00" x2="631.80" y2="677.00" stroke="#141414" stroke-width="1.81"/>
<line x1="621.20" y1="144.80" x2="621.20" y2="672.00" stroke="#141414" stroke-width="1.45"/>
<line x1="618.60" y1="162.06" x2="618.60" y2="673.19" stroke="#333" stroke-width="1.16"/>
<line x1="616.40" y1="163.33" x2="616.40" y2="674.39" stroke="#141414" stroke-width="1.67"/>
<line x1="613.20" y1="165.19" x2="613.20" y2="676.13" stroke="#141414" stroke-width="1.23"/>
<line x1="110.00" y1="99.30" x2="421.00" y2="99.30" stroke="#141414" stroke-width="1.19"/>
<line x1="143.50" y1="99.30" x2="143.50" y2="683.50" stroke="#141414" stroke-width="1.19"/>
<polygon points="143.50,99.30 146.30,114.80 140.70,114.80" fill="#141414"/>
<polygon points="143.50,683.80 140.70,668.30 146.30,668.30" fill="#141414"/>
<line x1="137.50" y1="682.50" x2="208.75" y2="717.50" stroke="#141414" stroke-width="1.19"/>
<line x1="183.50" y1="123.00" x2="183.50" y2="760.00" stroke="#141414" stroke-width="1.19"/>
<polygon points="183.50,122.50 186.30,138.00 180.70,138.00" fill="#141414"/>
<polygon points="183.50,659.00 180.70,643.50 186.30,643.50" fill="#141414"/>
<polygon points="183.50,659.50 186.30,675.00 180.70,675.00" fill="#141414"/>
<polygon points="183.50,704.00 180.70,688.50 186.30,688.50" fill="#141414"/>
<line x1="178.75" y1="120.00" x2="216.00" y2="140.60" stroke="#141414" stroke-width="1.19"/>
<line x1="178.75" y1="657.50" x2="210.00" y2="675.00" stroke="#141414" stroke-width="1.19"/>
<line x1="185.00" y1="122.00" x2="393.00" y2="2.40" stroke="#141414" stroke-width="1.19"/>
<polygon points="185.00,122.00 197.04,111.84 199.83,116.70" fill="#141414"/>
<polygon points="393.00,2.40 380.96,12.56 378.17,7.70" fill="#141414"/>
<line x1="423.00" y1="20.30" x2="388.00" y2="-1.50" stroke="#141414" stroke-width="1.19"/>
<line x1="661.80" y1="121.60" x2="455.00" y2="3.00" stroke="#141414" stroke-width="1.19"/>
<polygon points="661.80,121.60 646.97,116.30 649.76,111.44" fill="#141414"/>
<polygon points="455.00,3.00 469.83,8.30 467.04,13.16" fill="#141414"/>
<line x1="423.00" y1="20.30" x2="458.00" y2="-1.50" stroke="#141414" stroke-width="1.19"/>
<line x1="629.00" y1="140.50" x2="665.50" y2="120.00" stroke="#141414" stroke-width="1.19"/>
<line x1="367.00" y1="698.70" x2="479.50" y2="698.70" stroke="#141414" stroke-width="1.19"/>
<polygon points="367.00,698.70 382.50,695.90 382.50,701.50" fill="#141414"/>
<polygon points="479.50,698.70 464.00,701.50 464.00,695.90" fill="#141414"/>
<g opacity="0.999">
<text x="423" y="696" font-size="22.6" text-anchor="middle">560</text>
<text transform="translate(140,392.4) rotate(-90)" font-size="22.6" text-anchor="middle">2200</text>
<text transform="translate(181.3,392) rotate(-90)" font-size="22.6" text-anchor="middle">1950</text>
<text transform="translate(181,741) rotate(-90)" font-size="22.6" text-anchor="middle">150</text>
<text transform="translate(285,62) rotate(-30)" font-size="21.9" text-anchor="middle">1000</text>
<text transform="translate(558.3,59.3) rotate(30)" font-size="21.9" text-anchor="middle">1000</text>
</g>
</svg></body></html>
